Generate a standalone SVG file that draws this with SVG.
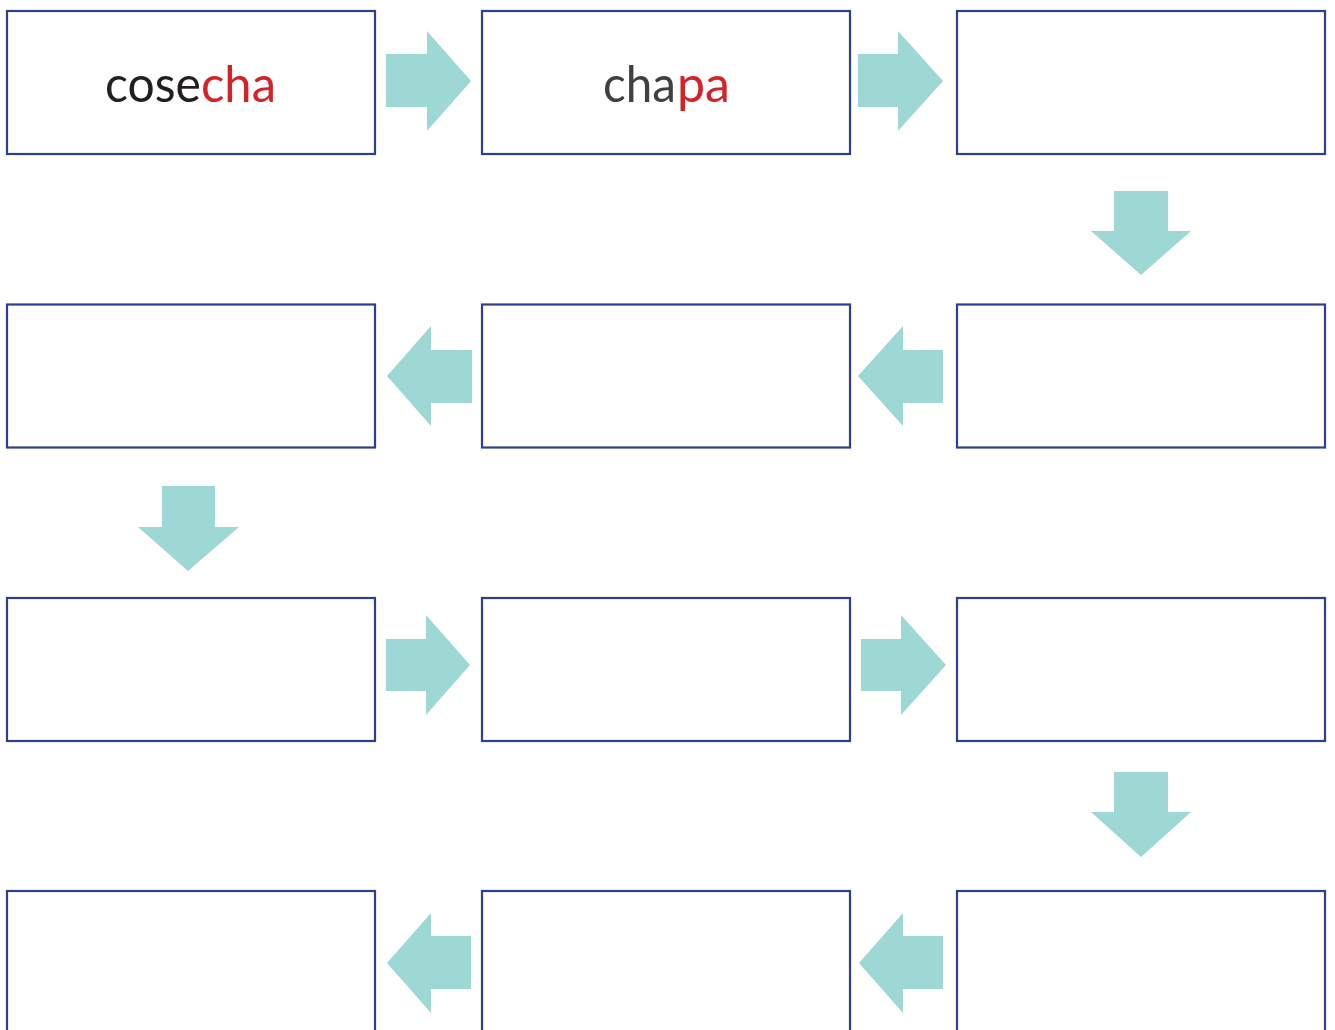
<svg xmlns="http://www.w3.org/2000/svg" width="1335" height="1030" viewBox="0 0 1335 1030">
<style>
.box{fill:#ffffff;stroke:#2e3f92;stroke-width:2.2}
.arr{fill:#9dd8d5}
.lbl{font-family:Lato,"Liberation Sans",Arial,sans-serif;font-size:51px}
.dk{fill:#231f20}
.gr{fill:#404040}
.rd{fill:#d2232a}
</style>
<rect width="1335" height="1030" fill="#ffffff"/>
<g id="connectors">
<polygon class="arr" points="386,54 427,54 427,31 471,81 427,131 427,107 386,107"/>
<polygon class="arr" points="858,54 898,54 898,31 943,81 898,131 898,107 858,107"/>
<polygon class="arr" points="1114,191 1168,191 1168,231 1191,231 1141,275 1091,231 1114,231"/>
<polygon class="arr" points="943,350 903,350 903,326 858,376 903,426 903,403 943,403"/>
<polygon class="arr" points="472,350 431,350 431,326 387,376 431,426 431,403 472,403"/>
<polygon class="arr" points="162,486 215,486 215,527 239,527 188,571 138,527 162,527"/>
<polygon class="arr" points="386,639 426,639 426,615 470,665 426,715 426,691 386,691"/>
<polygon class="arr" points="861,639 901,639 901,615 946,665 901,715 901,691 861,691"/>
<polygon class="arr" points="1114,772 1168,772 1168,812 1191,812 1141,857 1091,812 1114,812"/>
<polygon class="arr" points="943,936 903,936 903,913 859,963 903,1013 903,989 943,989"/>
<polygon class="arr" points="471,936 431,936 431,913 387,963 431,1013 431,989 471,989"/>
</g>
<g id="n1"><rect class="box" x="7" y="11" width="368" height="143"/>
<text class="lbl dk" x="105" y="102" textLength="96" lengthAdjust="spacingAndGlyphs">cose</text>
<text class="lbl rd" x="201" y="102" textLength="75" lengthAdjust="spacingAndGlyphs">cha</text></g>
<g id="n2"><rect class="box" x="482" y="11" width="368" height="143"/>
<text class="lbl gr" x="603" y="102" textLength="73" lengthAdjust="spacingAndGlyphs">cha</text>
<text class="lbl rd" x="677" y="102" textLength="53" lengthAdjust="spacingAndGlyphs">pa</text></g>
<g id="n3"><rect class="box" x="957" y="11" width="368" height="143"/></g>
<g id="n4"><rect class="box" x="957" y="304.5" width="368" height="143"/></g>
<g id="n5"><rect class="box" x="482" y="304.5" width="368" height="143"/></g>
<g id="n6"><rect class="box" x="7" y="304.5" width="368" height="143"/></g>
<g id="n7"><rect class="box" x="7" y="598" width="368" height="143"/></g>
<g id="n8"><rect class="box" x="482" y="598" width="368" height="143"/></g>
<g id="n9"><rect class="box" x="957" y="598" width="368" height="143"/></g>
<g id="n10"><rect class="box" x="957" y="891" width="368" height="143"/></g>
<g id="n11"><rect class="box" x="482" y="891" width="368" height="143"/></g>
<g id="n12"><rect class="box" x="7" y="891" width="368" height="143"/></g>
</svg>
